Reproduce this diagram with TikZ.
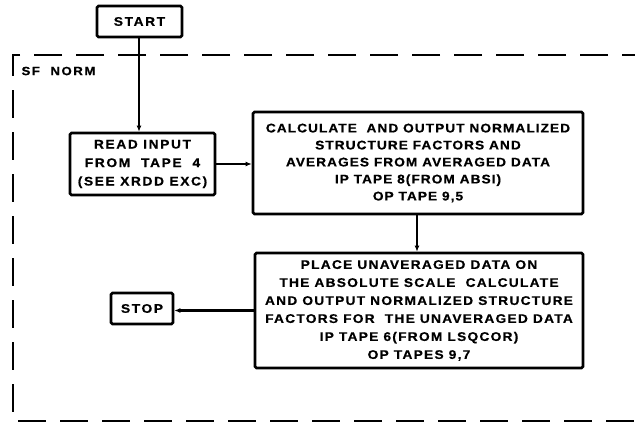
\documentclass[tikz,border=0pt]{standalone}
\usepackage{fontspec}
\usetikzlibrary{arrows.meta}
\newfontfamily\letA[FakeStretch=1.1,LetterSpace=8,FakeBold=0.6]{Liberation Sans}
\newfontfamily\letB[FakeStretch=1.1,LetterSpace=10,FakeBold=0.6]{Liberation Sans}
\newfontfamily\letC[FakeStretch=1.1,LetterSpace=13,FakeBold=0.6]{Liberation Sans}
\tikzset{
  box/.style={draw, line width=2.6pt, rounded corners=1.5pt, align=center, inner sep=0pt,
    font=\letA\bfseries\fontsize{12.5}{18}\selectfont},
  flow/.style={line width=2.6pt, -{Latex[length=6pt,width=5pt]}},
  frame/.style={line width=2.6pt, dash pattern=on 28pt off 14pt},
}
\begin{document}
\begin{tikzpicture}[x=1pt,y=-1pt]
\useasboundingbox (0,0) rectangle (635,424);
\draw[frame] (650,55) -- (13,55) -- (13,421) -- (650,421);
\node[anchor=west, font=\letC\bfseries\fontsize{12}{14}\selectfont] (sf) at (18,71) {SF~~NORM};
\node[box, minimum width=85pt, minimum height=31pt, font=\letC\bfseries\fontsize{12.5}{18}\selectfont] (start) at (139.5,21.5) {START};
\node[box, minimum width=145pt, minimum height=62pt, font=\letC\bfseries\fontsize{12.5}{18.5}\selectfont] (read) at (142.5,164) {READ INPUT\\FROM~~TAPE~~4\\(SEE XRDD EXC)};
\node[box, minimum width=330pt, minimum height=102pt, font=\letA\bfseries\fontsize{12.5}{17}\selectfont] (calc) at (418,163)
  {CALCULATE\ \ AND OUTPUT NORMALIZED\\STRUCTURE FACTORS AND\\AVERAGES FROM AVERAGED DATA\\IP TAPE 8(FROM ABSI)\hspace*{44pt}\\OP TAPE 9,5};
\node[box, minimum width=328pt, minimum height=115pt, font=\letB\bfseries\fontsize{12.5}{18}\selectfont] (place) at (419,310.5)
  {PLACE UNAVERAGED DATA ON\\THE ABSOLUTE SCALE\ \ CALCULATE\\AND OUTPUT NORMALIZED STRUCTURE\\FACTORS FOR\ \ THE UNAVERAGED DATA\\IP TAPE 6(FROM LSQCOR)\\OP TAPES 9,7};
\node[box, minimum width=62pt, minimum height=31pt, font=\letC\bfseries\fontsize{12.5}{18}\selectfont] (stop) at (142,308.5) {STOP};
\draw[flow] (start.south -| 139,0) -- (139,0 |- read.north);
\draw[flow] (read.east) -- (read.east -| calc.west);
\draw[flow] (calc.south -| 417,0) -- (417,0 |- place.north);
\draw[flow] (place.west) -- (place.west -| stop.east);
\end{tikzpicture}
\end{document}
